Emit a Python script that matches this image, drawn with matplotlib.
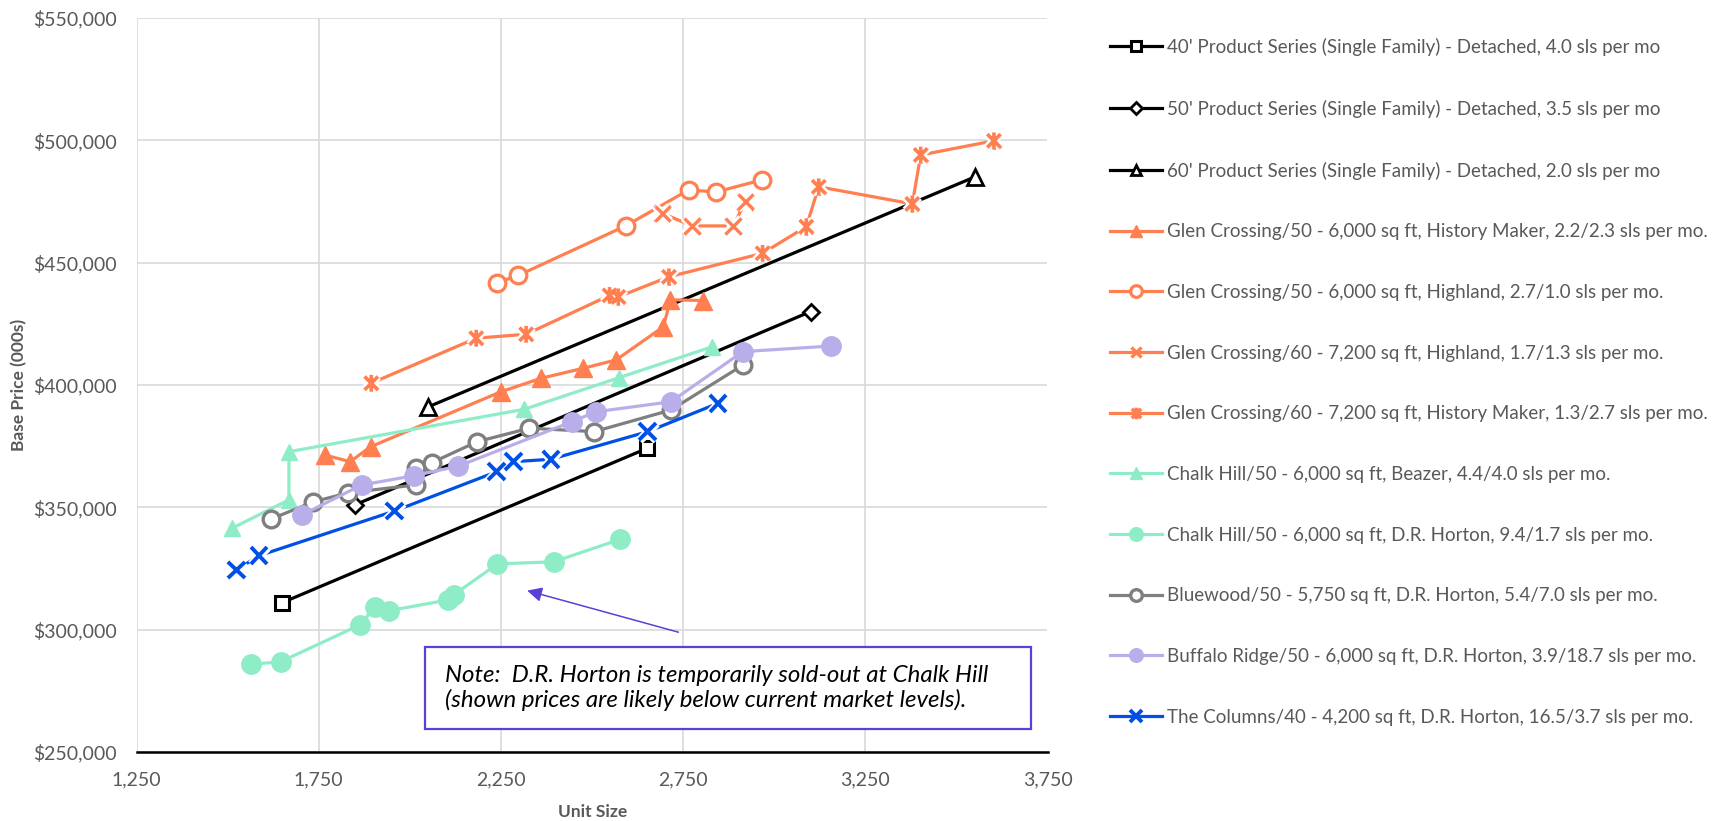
import matplotlib
matplotlib.use("Agg")
import numpy as np
import matplotlib.pyplot as plt
import matplotlib.patheffects as pe
from matplotlib.path import Path
from matplotlib.patches import Rectangle
from matplotlib.ticker import FuncFormatter

plt.rcParams['font.family'] = ['Lato', 'DejaVu Sans']

# ---- data: unit size (sq ft) and base price ($) per product line ----
size_40 = [1650, 2650]
price_40 = [311000, 374000]

size_50 = [1850, 3100]
price_50 = [351000, 430000]

size_60 = [2050, 3550]
price_60 = [391000, 485000]

gc50_hm_size = [1768, 1836, 1892, 2250, 2360, 2476, 2566, 2696, 2715, 2805]
gc50_hm_price = [371300, 368600, 374700, 397200, 402700, 406800, 410200, 423800, 434800, 434500]

gc50_hl_size = [2240, 2298, 2592, 2765, 2841, 2966]
gc50_hl_price = [441800, 444800, 465000, 479700, 478900, 483800]

gc60_hl_size = [2693, 2774, 2887, 2921]
gc60_hl_price = [470200, 465000, 465000, 474900]

gc60_hm_size = [1894, 2182, 2319, 2548, 2572, 2711, 2968, 3088, 3122, 3379, 3402, 3603]
gc60_hm_price = [400700, 419100, 420700, 436600, 436000, 444200, 453800, 464700, 481000,
                 474000, 494000, 499800]

ch_bz_size = [1512, 1668, 1668, 2313, 2575, 2830]
ch_bz_price = [341400, 353000, 372700, 390000, 403000, 415600]

ch_drh_size = [1565, 1645, 1862, 1904, 1943, 2106, 2120, 2240, 2395, 2578]
ch_drh_price = [285800, 286800, 301800, 309100, 307700, 312100, 314100, 326800, 327700, 336900]

bw_size = [1618, 1735, 1831, 2016, 2016, 2060, 2185, 2328, 2506, 2716, 2914]
bw_price = [345100, 352200, 355900, 359100, 365900, 368200, 376800, 382300, 380900, 389700, 408100]

br_size = [1703, 1868, 2012, 2133, 2446, 2510, 2716, 2914, 3156]
br_price = [346800, 359100, 362900, 366800, 385000, 389000, 393100, 413600, 415900]

col_size = [1524, 1586, 1957, 2238, 2284, 2387, 2653, 2846]
col_price = [324300, 330200, 348400, 364500, 368600, 369600, 380900, 392500]

x_ticks = [1250, 1750, 2250, 2750, 3250, 3750]
y_ticks = [250000, 300000, 350000, 400000, 450000, 500000, 550000]

labels = [
    "40' Product Series (Single Family) - Detached, 4.0 sls per mo",
    "50' Product Series (Single Family) - Detached, 3.5 sls per mo",
    "60' Product Series (Single Family) - Detached, 2.0 sls per mo",
    "Glen Crossing/50 - 6,000 sq ft, History Maker, 2.2/2.3 sls per mo.",
    "Glen Crossing/50 - 6,000 sq ft, Highland, 2.7/1.0 sls per mo.",
    "Glen Crossing/60 - 7,200 sq ft, Highland, 1.7/1.3 sls per mo.",
    "Glen Crossing/60 - 7,200 sq ft, History Maker, 1.3/2.7 sls per mo.",
    "Chalk Hill/50 - 6,000 sq ft, Beazer, 4.4/4.0 sls per mo.",
    "Chalk Hill/50 - 6,000 sq ft, D.R. Horton, 9.4/1.7 sls per mo.",
    "Bluewood/50 - 5,750 sq ft, D.R. Horton, 5.4/7.0 sls per mo.",
    "Buffalo Ridge/50 - 6,000 sq ft, D.R. Horton, 3.9/18.7 sls per mo.",
    "The Columns/40 - 4,200 sq ft, D.R. Horton, 16.5/3.7 sls per mo.",
]

note_text = ("Note:  D.R. Horton is temporarily sold-out at Chalk Hill\n"
             "(shown prices are likely below current market levels).")

# ---- styling ----
BLACK = '#000000'
ORANGE = '#FF7F50'
MINT = '#8EEDC7'
GREY = '#7F7F7F'
LAVENDER = '#B9AEEA'
BLUE = '#0050E6'
TEXT = '#595959'
NOTE = '#5B3FD6'

# asterisk: an "x" with a vertical bar through it
star_path = Path(
    [(-1, -1), (1, 1), (-1, 1), (1, -1), (0, -1.25), (0, 1.25)],
    [Path.MOVETO, Path.LINETO, Path.MOVETO, Path.LINETO, Path.MOVETO, Path.LINETO],
)

W, H = 1724, 821
fig = plt.figure(figsize=(W / 100, H / 100), dpi=100)
ax = fig.add_axes([136.6 / W, 1 - 751.8 / H, (1047.5 - 136.6) / W, (751.8 - 18) / H])

lw = 2.3
series = [
    (size_40, price_40, dict(color=BLACK, marker='s', ms=10, mfc='white', mec=BLACK, mew=2.2), False),
    (size_50, price_50, dict(color=BLACK, marker='D', ms=8.5, mfc='white', mec=BLACK, mew=2.0), False),
    (size_60, price_60, dict(color=BLACK, marker='^', ms=11, mfc='white', mec=BLACK, mew=2.0), False),
    (gc50_hm_size, gc50_hm_price, dict(color=ORANGE, marker='^', ms=13, mfc=ORANGE, mec=ORANGE, mew=1), False),
    (gc50_hl_size, gc50_hl_price, dict(color=ORANGE, marker='o', ms=12, mfc='white', mec=ORANGE, mew=2.3), False),
    (gc60_hl_size, gc60_hl_price, dict(color=ORANGE, marker='x', ms=11, mec=ORANGE, mew=2.4), True),
    (gc60_hm_size, gc60_hm_price, dict(color=ORANGE, marker=star_path, ms=12, mec=ORANGE, mew=2.6), True),
    (ch_bz_size, ch_bz_price, dict(color=MINT, marker='^', ms=12, mfc=MINT, mec=MINT, mew=1), False),
    (ch_drh_size, ch_drh_price, dict(color=MINT, marker='o', ms=14, mfc=MINT, mec=MINT, mew=1), False),
    (bw_size, bw_price, dict(color=GREY, marker='o', ms=12, mfc='white', mec=GREY, mew=2.4), False),
    (br_size, br_price, dict(color=LAVENDER, marker='o', ms=14, mfc=LAVENDER, mec=LAVENDER, mew=1), False),
    (col_size, col_price, dict(color=BLUE, marker='x', ms=12, mec=BLUE, mew=2.8), True),
]

handles = []
for i, (xs, ys, style, halo) in enumerate(series):
    z = 3 + i * 0.1
    line, = ax.plot(xs, ys, lw=lw, label=labels[i], zorder=z, clip_on=False, **style)
    handles.append(line)
    if halo:
        mk = {k: v for k, v in style.items() if k != 'color'}
        ax.plot(xs, ys, ls='none', zorder=z + 0.05, clip_on=False,
                path_effects=[pe.Stroke(linewidth=style['mew'] + 3.5, foreground='white'),
                              pe.Normal()], **mk)

# ---- axes ----
ax.set_xlim(x_ticks[0], x_ticks[-1])
ax.set_ylim(y_ticks[0], y_ticks[-1])
ax.set_xticks(x_ticks)
ax.set_yticks(y_ticks)
ax.xaxis.set_major_formatter(FuncFormatter(lambda v, p: f"{v:,.0f}"))
ax.yaxis.set_major_formatter(FuncFormatter(lambda v, p: f"${v:,.0f}"))
ax.grid(True, color='#D9D9D9', lw=1.2, zorder=0)
ax.set_axisbelow(True)
for s in ('left', 'top', 'right'):
    ax.spines[s].set_visible(False)
ax.spines['bottom'].set_color(BLACK)
ax.spines['bottom'].set_linewidth(1.8)
ax.spines['bottom'].set_zorder(2.5)
ax.tick_params(length=0, labelsize=14, labelcolor=TEXT)
ax.tick_params(axis='y', pad=14)
ax.tick_params(axis='x', pad=14)

fig.text(593 / W, 1 - 812 / H, "Unit Size", ha='center', va='center',
         fontsize=12.5, fontweight='bold', color=TEXT)
fig.text(19 / W, 1 - 385 / H, "Base Price (000s)", ha='center', va='center',
         rotation=90, fontsize=12.5, fontweight='bold', color=TEXT)

# ---- note box and arrow ----
fig.patches.append(Rectangle((425 / W, 1 - 728.5 / H), (1031 - 425) / W, (728.5 - 647.3) / H,
                             transform=fig.transFigure, fill=True, facecolor='white',
                             edgecolor=NOTE, lw=1.6, zorder=5))
fig.text(445 / W, 1 - 688 / H, note_text, ha='left', va='center', fontsize=17.3,
         style='italic', color='black', linespacing=1.2, zorder=6)
ax.annotate("", xy=(2322, 315900), xytext=(2737, 298900),
            arrowprops=dict(arrowstyle='-|>', color=NOTE, lw=1.1,
                            mutation_scale=22, shrinkA=0, shrinkB=0), zorder=6)

# ---- legend ----
fig.legend(handles=handles, loc='upper left', bbox_to_anchor=(1110 / W, 1 - 38 / H),
           frameon=False, fontsize=13.5, labelcolor=TEXT, handlelength=2.8,
           handletextpad=0.25, labelspacing=2.33, markerscale=0.7, borderpad=0,
           borderaxespad=0)

fig.savefig("out.png", dpi=100)
